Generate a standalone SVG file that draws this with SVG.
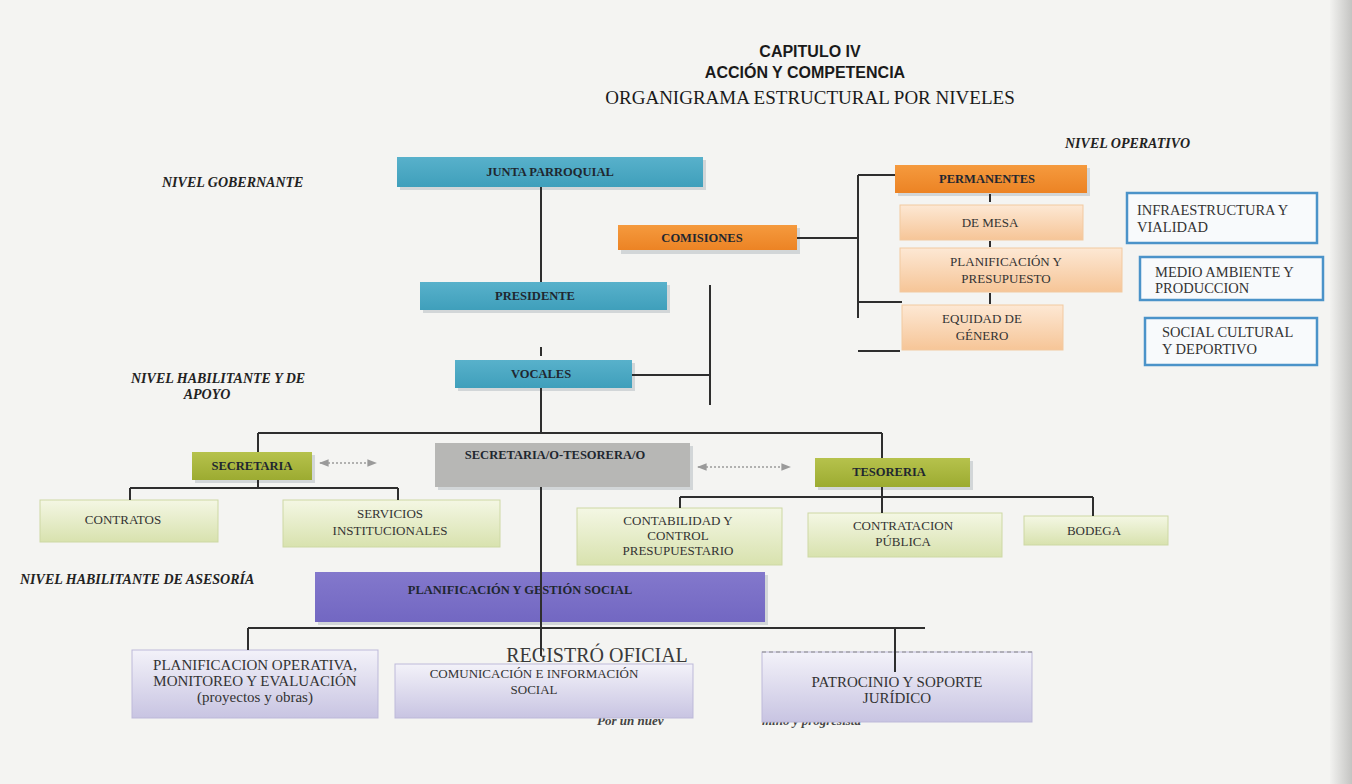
<svg xmlns="http://www.w3.org/2000/svg" width="1352" height="784" viewBox="0 0 1352 784">
<defs>
<linearGradient id="gTeal" x1="0" y1="0" x2="0" y2="1"><stop offset="0" stop-color="#58b1cb"/><stop offset="1" stop-color="#3f9fbb"/></linearGradient>
<linearGradient id="gOrange" x1="0" y1="0" x2="0" y2="1"><stop offset="0" stop-color="#f59a3e"/><stop offset="1" stop-color="#ec8324"/></linearGradient>
<linearGradient id="gLOrange" x1="0" y1="0" x2="0" y2="1"><stop offset="0" stop-color="#fde8d4"/><stop offset="1" stop-color="#f6c597"/></linearGradient>
<linearGradient id="gOlive" x1="0" y1="0" x2="0" y2="1"><stop offset="0" stop-color="#b6c24c"/><stop offset="1" stop-color="#9cab31"/></linearGradient>
<linearGradient id="gLGreen" x1="0" y1="0" x2="0" y2="1"><stop offset="0" stop-color="#f4f7e4"/><stop offset="1" stop-color="#d8e2ae"/></linearGradient>
<linearGradient id="gLav" x1="0" y1="0" x2="0" y2="1"><stop offset="0" stop-color="#f3f2f9"/><stop offset="1" stop-color="#c8c4e2"/></linearGradient>
<linearGradient id="gPurple" x1="0" y1="0" x2="0" y2="1"><stop offset="0" stop-color="#8378cc"/><stop offset="1" stop-color="#7267c2"/></linearGradient>
<linearGradient id="gEdge" x1="0" y1="0" x2="1" y2="0"><stop offset="0" stop-color="#f2f2f0"/><stop offset="1" stop-color="#c4c4c2"/></linearGradient>
<marker id="ah" viewBox="0 0 10 10" refX="9" refY="5" markerWidth="6" markerHeight="6" orient="auto-start-reverse"><path d="M0,1 L10,5 L0,9 z" fill="#9a9a9a"/></marker>
<style>
.shadow{fill:#c9ced1;opacity:0.8}
.lbl{font-family:"Liberation Serif","Times New Roman",serif;font-weight:bold;font-size:12.5px;fill:#1f2730;text-anchor:middle}
.txt{font-family:"Liberation Serif","Times New Roman",serif;font-size:13px;fill:#333;text-anchor:middle}
.lav{font-size:15px}
.txtl{font-family:"Liberation Serif","Times New Roman",serif;font-size:14.5px;fill:#333}
.lvl{font-family:"Liberation Serif","Times New Roman",serif;font-weight:bold;font-style:italic;font-size:14px;fill:#222}
.conn{stroke:#2e2e2e;stroke-width:2;fill:none}
.dot{stroke:#9a9a9a;stroke-width:1.6;stroke-dasharray:2 2;fill:none}
.blue{fill:#f8fafc;stroke:#4b93c9;stroke-width:2.5}
</style>
</defs>
<rect x="0" y="0" width="1352" height="784" fill="#f4f4f2"/>
<rect x="1330" y="0" width="22" height="784" fill="url(#gEdge)"/>

<g id="title">
<text x="810" y="57" font-family="Liberation Sans, Arial, sans-serif" font-weight="bold" font-size="16" fill="#1a1a1a" text-anchor="middle">CAPITULO IV</text>
<text x="805" y="78" font-family="Liberation Sans, Arial, sans-serif" font-weight="bold" font-size="16" fill="#1a1a1a" text-anchor="middle">ACCIÓN Y COMPETENCIA</text>
<text x="810" y="104" font-family="Liberation Serif, Times New Roman, serif" font-size="19" fill="#1a1a1a" text-anchor="middle">ORGANIGRAMA ESTRUCTURAL POR NIVELES</text>
</g>

<g id="levels">
<text class="lvl" x="162" y="187">NIVEL GOBERNANTE</text>
<text class="lvl" x="1065" y="148">NIVEL OPERATIVO</text>
<text class="lvl" x="131" y="383">NIVEL HABILITANTE Y DE</text>
<text class="lvl" x="207" y="399" text-anchor="middle">APOYO</text>
<text class="lvl" x="20" y="584">NIVEL HABILITANTE DE ASESORÍA</text>
</g>

<g id="bleed" font-family="Liberation Serif, Times New Roman, serif" font-weight="bold" font-style="italic" font-size="13" fill="#444">
<text x="597" y="725">Por un nuev</text>
<text x="762" y="725">mino y progresista</text>
</g>

<g id="junta"><rect class="shadow" x="400" y="160" width="306" height="30"/><rect x="397" y="157" width="306" height="30" fill="url(#gTeal)"/><text class="lbl" x="550" y="176">JUNTA PARROQUIAL</text></g>
<g id="presidente"><rect class="shadow" x="423" y="285" width="247" height="28"/><rect x="420" y="282" width="247" height="28" fill="url(#gTeal)"/><text class="lbl" x="535" y="300">PRESIDENTE</text></g>
<g id="vocales"><rect class="shadow" x="458" y="363" width="177" height="28"/><rect x="455" y="360" width="177" height="28" fill="url(#gTeal)"/><text class="lbl" x="541" y="378">VOCALES</text></g>

<g id="comisiones"><rect class="shadow" x="621" y="228" width="179" height="26"/><rect x="618" y="225" width="179" height="25" fill="url(#gOrange)"/><text class="lbl" x="702" y="242">COMISIONES</text></g>
<g id="permanentes"><rect class="shadow" x="898" y="168" width="192" height="28"/><rect x="895" y="165" width="192" height="28" fill="url(#gOrange)"/><text class="lbl" x="987" y="183">PERMANENTES</text></g>
<g id="demesa"><rect x="900" y="205" width="183" height="35" fill="url(#gLOrange)" stroke="#f2c9a0"/><text class="txt" x="990" y="227">DE MESA</text></g>
<g id="planpres"><rect x="900" y="248" width="222" height="44" fill="url(#gLOrange)" stroke="#f2c9a0"/><text class="txt" x="1006" y="266">PLANIFICACIÓN Y</text><text class="txt" x="1006" y="283">PRESUPUESTO</text></g>
<g id="equidad"><rect x="902" y="305" width="161" height="45" fill="url(#gLOrange)" stroke="#f2c9a0"/><text class="txt" x="982" y="323">EQUIDAD DE</text><text class="txt" x="982" y="340">GÉNERO</text></g>

<g id="infra"><rect class="blue" x="1127" y="193" width="190" height="50"/><text class="txtl" x="1137" y="215">INFRAESTRUCTURA Y</text><text class="txtl" x="1137" y="232">VIALIDAD</text></g>
<g id="medio"><rect class="blue" x="1140" y="257" width="183" height="43"/><text class="txtl" x="1155" y="277">MEDIO AMBIENTE Y</text><text class="txtl" x="1155" y="293">PRODUCCION</text></g>
<g id="social"><rect class="blue" x="1145" y="318" width="172" height="47"/><text class="txtl" x="1162" y="337">SOCIAL CULTURAL</text><text class="txtl" x="1162" y="354">Y DEPORTIVO</text></g>

<g id="secretaria"><rect class="shadow" x="195" y="455" width="120" height="28"/><rect x="192" y="452" width="120" height="28" fill="url(#gOlive)"/><text class="lbl" x="252" y="470">SECRETARIA</text></g>
<g id="sectes"><rect class="shadow" x="438" y="446" width="255" height="44"/><rect x="435" y="443" width="255" height="44" fill="#b7b7b5"/><text class="lbl" x="555" y="459">SECRETARIA/O-TESORERA/O</text></g>
<g id="tesoreria"><rect class="shadow" x="818" y="461" width="155" height="29"/><rect x="815" y="458" width="155" height="29" fill="url(#gOlive)"/><text class="lbl" x="889" y="476">TESORERIA</text></g>

<g id="contratos"><rect x="40" y="500" width="178" height="42" fill="url(#gLGreen)" stroke="#cdd8a4"/><text class="txt" x="123" y="524">CONTRATOS</text></g>
<g id="servicios"><rect x="283" y="500" width="217" height="47" fill="url(#gLGreen)" stroke="#cdd8a4"/><text class="txt" x="390" y="518">SERVICIOS</text><text class="txt" x="390" y="535">INSTITUCIONALES</text></g>
<g id="contabilidad"><rect x="577" y="508" width="205" height="57" fill="url(#gLGreen)" stroke="#cdd8a4"/><text class="txt" x="678" y="525">CONTABILIDAD Y</text><text class="txt" x="678" y="540">CONTROL</text><text class="txt" x="678" y="555">PRESUPUESTARIO</text></g>
<g id="contratacion"><rect x="808" y="513" width="194" height="44" fill="url(#gLGreen)" stroke="#cdd8a4"/><text class="txt" x="903" y="530">CONTRATACION</text><text class="txt" x="903" y="546">PÚBLICA</text></g>
<g id="bodega"><rect x="1024" y="516" width="144" height="29" fill="url(#gLGreen)" stroke="#cdd8a4"/><text class="txt" x="1094" y="535">BODEGA</text></g>

<g id="plangestion"><rect class="shadow" x="318" y="575" width="450" height="50"/><rect x="315" y="572" width="450" height="50" fill="url(#gPurple)"/><text class="lbl" x="520" y="594">PLANIFICACIÓN Y GESTIÓN SOCIAL</text></g>

<g id="registro"><text x="597" y="662" font-family="Liberation Serif, Times New Roman, serif" font-size="20" fill="#3a3a3a" text-anchor="middle">REGISTRÓ OFICIAL</text></g>

<g id="planop"><rect x="132" y="650" width="246" height="68" fill="url(#gLav)" stroke="#bdb9d9"/><text class="txt lav" x="255" y="670">PLANIFICACION OPERATIVA,</text><text class="txt lav" x="255" y="686">MONITOREO Y EVALUACIÓN</text><text class="txt lav" x="255" y="702">(proyectos y obras)</text></g>
<g id="comunicacion"><rect x="395" y="664" width="298" height="54" fill="url(#gLav)" stroke="#bdb9d9"/><text class="txt" x="534" y="678" font-size="13.5">COMUNICACIÓN E INFORMACIÓN</text><text class="txt" x="534" y="694" font-size="13.5">SOCIAL</text></g>
<g id="patrocinio"><rect x="762" y="652" width="270" height="70" fill="url(#gLav)" stroke="#bdb9d9"/><line x1="762" y1="652" x2="1032" y2="652" stroke="#888" stroke-width="1.2" stroke-dasharray="4 3"/><text class="txt lav" x="897" y="687">PATROCINIO Y SOPORTE</text><text class="txt lav" x="897" y="703">JURÍDICO</text></g>

<g id="connectors">
<path class="conn" d="M541,187 V282"/>
<path class="conn" d="M541,347 V356"/>
<path class="conn" d="M632,375 H710 M710,285 V405"/>
<path class="conn" d="M541,388 V433 M258,433 H882 M258,433 V452 M882,433 V458"/>
<path class="conn" d="M797,238 H858 M858,175 V318 M858,175 H895 M858,302 H902 M858,351 H900"/>
<path class="conn" d="M990,194 V202 M990,241 V247 M990,293 V304"/>
<path class="conn" d="M258,480 V488 M130,488 H398 M130,488 V500 M398,488 V500"/>
<path class="conn" d="M882,487 V513 M680,497 H1093 M680,497 V508 M1093,497 V516"/>
<path class="conn" d="M541,487 V656"/>
<path class="conn" stroke-width="2.5" d="M248,628 H925 M248,628 V650 M895,628 V672"/>
<path class="dot" d="M320,463 H376" marker-start="url(#ah)" marker-end="url(#ah)"/>
<path class="dot" d="M698,467 H790" marker-start="url(#ah)" marker-end="url(#ah)"/>
</g>
</svg>
